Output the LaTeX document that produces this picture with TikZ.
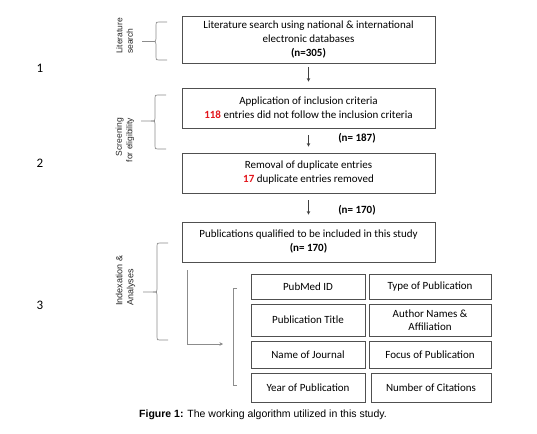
\documentclass[tikz,border=0pt]{standalone}
\usepackage{fontspec}
\setmainfont{Carlito}
\newfontfamily\capfont{Liberation Sans}
\usetikzlibrary{arrows.meta}
\definecolor{boxline}{HTML}{505050}
\definecolor{braceline}{HTML}{8C8C8C}
\definecolor{redtxt}{HTML}{E3161C}
\newcommand\sidebrace[4]{%
  \draw[brace] (#1+11,#2) -- (#1+3,#2) .. controls (#1,#2) .. (#1,#2+3) -- (#1,#3-3) .. controls (#1,#3) .. (#1-4,#3) -- (#1-14,#3);
  \draw[brace] (#1-4,#3) .. controls (#1,#3) .. (#1,#3+3) -- (#1,#4-3) .. controls (#1,#4) .. (#1+3,#4) -- (#1+11,#4);}
\newcommand\rr[1]{\textcolor{redtxt}{\textbf{#1}}}
\begin{document}
\begin{tikzpicture}[x=1pt,y=-1pt,
  mainbox/.style={draw=boxline,line width=0.8pt,minimum width=253pt,align=center,font=\fontsize{11}{14}\selectfont,inner sep=0pt},
  cell/.style={draw=boxline,line width=0.8pt,align=center,font=\fontsize{11}{13}\selectfont,inner sep=0pt},
  arr/.style={draw=black!75,line width=0.6pt,-{Stealth[length=3.5pt,width=3.5pt]}},
  brace/.style={draw=braceline,line width=0.7pt},
  sidelbl/.style={rotate=90,font=\capfont\fontsize{8.5}{10.5}\selectfont,text=black!85,inner sep=0pt},
  num/.style={font=\fontsize{13}{15}\selectfont},
  ntxt/.style={font=\bfseries\fontsize{11}{13}\selectfont}]
\path[use as bounding box,fill=white] (0,0) rectangle (537,433);

% numbers
\node[num] (n1) at (40,68) {1};
\node[num] (n2) at (40,163) {2};
\node[num] (n3) at (40,305) {3};

% side labels
\node[sidelbl,align=left] (l1) at (124.5,36) {Literature\\search};
\node[sidelbl,align=right] (l2) at (125,140) {Screening\\for eligibility};
\node[sidelbl,align=left,font=\capfont\fontsize{9}{11}\selectfont] (l3) at (125.5,280.5) {Indexation \&\\Analyses};

% braces
\sidebrace{156}{22}{41.5}{60}
\sidebrace{155}{95}{121}{149}
\sidebrace{157}{243}{292}{340}
\draw[brace] (237,288) -- (233,288) -- (233,385) -- (237,385);

% main boxes
\node[mainbox,minimum height=47pt] (b1) at (308.5,39.5) {Literature search using national \& international\\electronic databases\\\textbf{(n=305)}};
\node[mainbox,minimum height=40pt] (b2) at (308.5,108) {Application of inclusion criteria\\\rr{118} entries did not follow the inclusion criteria};
\node[mainbox,minimum height=40pt] (b3) at (308.5,173) {Removal of duplicate entries\\\rr{17} duplicate entries removed};
\node[mainbox,minimum height=40pt] (b4) at (308.5,242) {Publications qualified to be included in this study\\\textbf{(n= 170)}};

% arrows between boxes
\draw[arr] ([yshift=-4pt]b1.south) -- ([yshift=6pt]b2.north);
\draw[arr] ([yshift=-7pt]b2.south) -- ([yshift=6pt]b3.north);
\draw[arr] ([yshift=-7pt]b3.south) -- ([yshift=7pt]b4.north);
\node[ntxt] (c1) at (357,138) {(n= 187)};
\node[ntxt] (c2) at (357,210) {(n= 170)};

% table
\node[cell,minimum width=114pt,minimum height=25pt] (t11) at (308,287) {PubMed ID};
\node[cell,minimum width=122pt,minimum height=25pt] (t12) at (430,287) {Type of Publication};
\node[cell,minimum width=114pt,minimum height=32pt] (t21) at (308,320) {Publication Title};
\node[cell,minimum width=122pt,minimum height=32pt] (t22) at (430,320) {Author Names \&\\Affiliation};
\node[cell,minimum width=114pt,minimum height=27pt] (t31) at (308,354.5) {Name of Journal};
\node[cell,minimum width=122pt,minimum height=27pt] (t32) at (430,354.5) {Focus of Publication};
\node[cell,minimum width=114pt,minimum height=29pt] (t41) at (308,387.5) {Year of Publication};
\node[cell,minimum width=120pt,minimum height=29pt] (t42) at (431,387.5) {Number of Citations};

% arrow to table
\coordinate (tip) at (223,344);
\draw[arr,draw=braceline] ([xshift=6pt,yshift=-8pt]b4.south west) |- (tip);

% caption
\node[font=\capfont\fontsize{10.5}{12.5}\selectfont] (cap) at (263,415) {\textbf{Figure 1:} The working algorithm utilized in this study.};
\end{tikzpicture}
\end{document}
